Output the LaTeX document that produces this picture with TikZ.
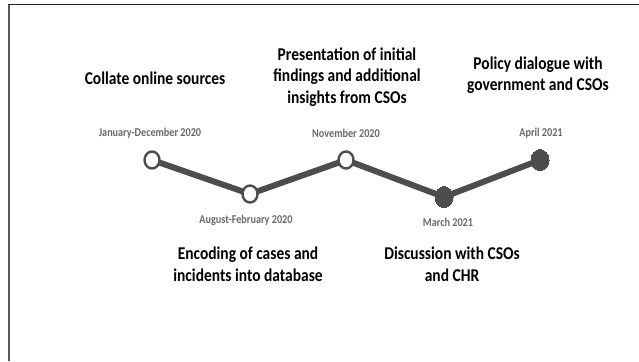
\documentclass[tikz,border=0pt]{standalone}
\usepackage{fontspec}
\setmainfont{Carlito}
\newfontfamily\datefont{Carlito}[FakeStretch=0.85]
\newfontfamily\headfont{Carlito}[FakeStretch=0.86]
\definecolor{lineg}{RGB}{77, 77, 77}
\definecolor{dateg}{RGB}{105, 105, 105}
\usetikzlibrary{shapes.geometric, backgrounds, positioning}

\begin{document}
\begin{tikzpicture}[x=1pt, y=-1pt,
  dot/.style={draw=lineg, line width=2.4pt, fill=white, ellipse, minimum width=15pt, minimum height=17pt, inner sep=0pt},
  fulldot/.style={dot, fill=lineg, line width=0pt, minimum width=18pt, minimum height=21pt},
  tline/.style={draw=lineg, line width=6pt},
  datelbl/.style={font=\datefont\bfseries\fontsize{12}{13}\selectfont, text=dateg, inner sep=0pt},
  event/.style={font=\headfont\bfseries\fontsize{18}{21.5}\selectfont, align=center, inner sep=0pt}
]
  \useasboundingbox (0,0) rectangle (639,361);
  % frame lines
  \draw[gray!70!black, line width=1.6pt] (9,361) -- (9,4.5);
  \draw[black!85, line width=1.6pt] (8.2,4.5) -- (639,4.5);

  % milestones
  \node[dot] (jan) at (152,160) {};
  \node[dot] (aug) at (250,194) {};
  \node[dot] (nov) at (346,160) {};
  \node[fulldot] (mar) at (444,197) {};
  \node[fulldot] (apr) at (540,160) {};
  \begin{pgfonlayer}{background}
    \draw[tline] (jan.center) -- (aug.center) -- (nov.center) -- (mar.center) -- (apr.center);
  \end{pgfonlayer}

  % dates
  \node[datelbl] (jandate) at (150,133) {January-December 2020};
  \node[datelbl] (novdate) at (346,133) {November 2020};
  \node[datelbl] (aprdate) at (541,133) {April 2021};
  \node[datelbl] (augdate) at (246,220) {August-February 2020};
  \node[datelbl] (mardate) at (448,222) {March 2021};

  % activities
  \node[event] (collate) at (155,78) {Collate online sources};
  \node[event] (present) at (347,77) {Presentation of initial\\findings and additional\\insights from CSOs};
  \node[event] (policy) at (538,75) {Policy dialogue with\\government and CSOs};
  \node[event] (encode) at (248,264) {Encoding of cases and\\incidents into database};
  \node[event] (discuss) at (452,264) {Discussion with CSOs\\and CHR};
\end{tikzpicture}
\end{document}
